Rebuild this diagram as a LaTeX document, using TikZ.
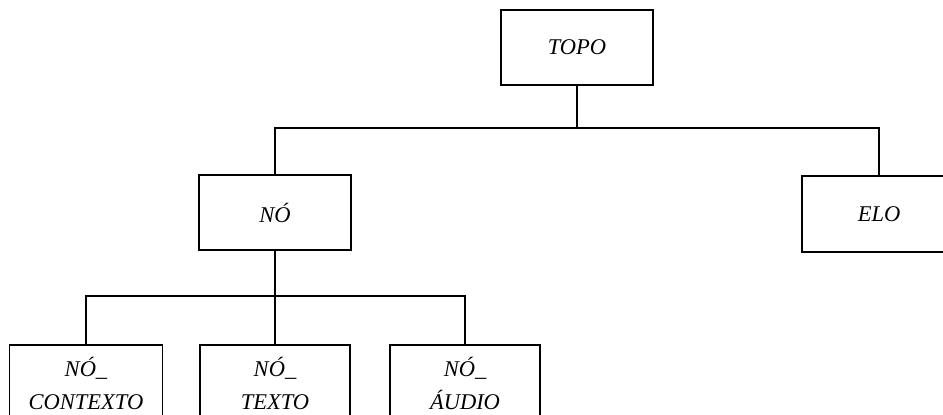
\documentclass[tikz,border=0pt]{standalone}
\usepackage{fontspec}
\setmainfont{Liberation Serif}
\begin{document}
\begin{tikzpicture}[x=1pt,y=-1pt,
  box/.style={draw, line width=1.7pt, minimum width=152pt, minimum height=75pt,
    font=\fontsize{22.5}{33}\selectfont\itshape, align=center, inner sep=0pt},
  conn/.style={line width=1.7pt}]
\clip (0,0) rectangle (943,415);
\useasboundingbox (0,0) rectangle (943,415);
\node[box] (topo) at (577,47.5) {TOPO};
\node[box] (no) at (275,212.5) {NÓ};
\node[box, minimum width=154pt, minimum height=76pt] (elo) at (879,214) {ELO};
\node[box, minimum width=153pt, minimum height=76pt] (ctx) at (86,383) {NÓ\_\\CONTEXTO};
\node[box, minimum width=150pt, minimum height=76pt] (txt) at (275,383) {NÓ\_\\TEXTO};
\node[box, minimum width=150pt, minimum height=76pt] (aud) at (465,383) {NÓ\_\\ÁUDIO};
\coordinate (j1) at (577,128);
\coordinate (j2) at (275,296);
\draw[conn] (topo.south) -- (j1);
\draw[conn] (no.north) -- (no.north |- j1) -- (elo.north |- j1) -- (elo.north);
\draw[conn] (no.south) -- (txt.north);
\draw[conn] (ctx.north) -- (ctx.north |- j2) -- (aud.north |- j2) -- (aud.north);
\end{tikzpicture}
\end{document}
